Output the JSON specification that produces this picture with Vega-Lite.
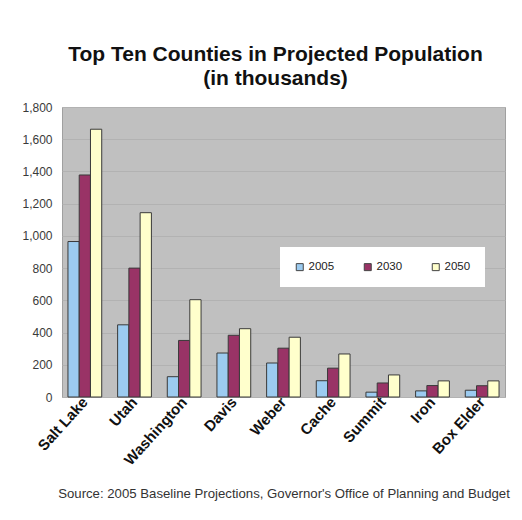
{
  "$schema": "https://vega.github.io/schema/vega-lite/v6.json",
  "width": 443,
  "height": 290,
  "autosize": {"type": "none"},
  "padding": {"left": 62, "top": 107, "right": 17, "bottom": 123},
  "background": "white",
  "title": {
    "text": ["Top Ten Counties in Projected Population", "(in thousands)"],
    "font": "Liberation Sans",
    "fontSize": 21,
    "fontWeight": "bold",
    "color": "#111111",
    "anchor": "middle",
    "dx": -8,
    "offset": 12,
    "lineHeight": 24
  },
  "data": {
    "values": [
      {"county": "Salt Lake", "year": "2005", "population": 965},
      {"county": "Salt Lake", "year": "2030", "population": 1378},
      {"county": "Salt Lake", "year": "2050", "population": 1662},
      {"county": "Utah", "year": "2005", "population": 448},
      {"county": "Utah", "year": "2030", "population": 800},
      {"county": "Utah", "year": "2050", "population": 1144},
      {"county": "Washington", "year": "2005", "population": 126},
      {"county": "Washington", "year": "2030", "population": 351},
      {"county": "Washington", "year": "2050", "population": 604},
      {"county": "Davis", "year": "2005", "population": 273},
      {"county": "Davis", "year": "2030", "population": 383},
      {"county": "Davis", "year": "2050", "population": 424},
      {"county": "Weber", "year": "2005", "population": 211},
      {"county": "Weber", "year": "2030", "population": 303},
      {"county": "Weber", "year": "2050", "population": 371},
      {"county": "Cache", "year": "2005", "population": 101},
      {"county": "Cache", "year": "2030", "population": 179},
      {"county": "Cache", "year": "2050", "population": 267},
      {"county": "Summit", "year": "2005", "population": 30},
      {"county": "Summit", "year": "2030", "population": 87},
      {"county": "Summit", "year": "2050", "population": 137},
      {"county": "Iron", "year": "2005", "population": 38},
      {"county": "Iron", "year": "2030", "population": 71},
      {"county": "Iron", "year": "2050", "population": 100},
      {"county": "Box Elder", "year": "2005", "population": 42},
      {"county": "Box Elder", "year": "2030", "population": 70},
      {"county": "Box Elder", "year": "2050", "population": 100}
    ]
  },
  "mark": {"type": "bar", "stroke": "#3a3a3a", "strokeWidth": 1},
  "encoding": {
    "x": {
      "field": "county",
      "type": "nominal",
      "sort": null,
      "scale": {"paddingInner": 0.32, "paddingOuter": 0.12},
      "axis": {
        "title": "Source: 2005 Baseline Projections, Governor's Office of Planning and Budget",
        "titleFont": "Liberation Sans",
        "titleFontSize": 13.2,
        "titleFontWeight": "normal",
        "titleColor": "#333333",
        "titlePadding": 20,
        "labelAngle": -48,
        "labelFont": "Liberation Sans",
        "labelFontSize": 15,
        "labelFontWeight": "bold",
        "labelColor": "#111111",
        "labelPadding": 2,
        "ticks": false,
        "domain": false
      }
    },
    "xOffset": {"field": "year", "type": "nominal", "sort": ["2005", "2030", "2050"]},
    "y": {
      "field": "population",
      "type": "quantitative",
      "scale": {"domain": [0, 1800], "nice": false},
      "axis": {
        "title": null,
        "values": [0, 200, 400, 600, 800, 1000, 1200, 1400, 1600, 1800],
        "format": ",.0f",
        "labelFont": "Liberation Sans",
        "labelFontSize": 12,
        "labelColor": "#3a3a3a",
        "labelPadding": 10,
        "ticks": false,
        "domain": false,
        "gridColor": "#b2b2b2",
        "gridWidth": 1
      }
    },
    "color": {
      "field": "year",
      "type": "nominal",
      "scale": {"domain": ["2005", "2030", "2050"], "range": ["#9ccbf0", "#993366", "#ffffcc"]},
      "legend": {
        "title": null,
        "orient": "none",
        "legendX": 218,
        "legendY": 140,
        "direction": "horizontal",
        "columns": 3,
        "columnPadding": 27,
        "padding": 14,
        "fillColor": "white",
        "symbolType": "square",
        "symbolSize": 49,
        "symbolStrokeColor": "#444444",
        "symbolStrokeWidth": 1,
        "symbolOpacity": 1,
        "labelFont": "Liberation Sans",
        "labelFontSize": 11.5,
        "labelColor": "#222222",
        "labelOffset": 3
      }
    }
  },
  "config": {
    "view": {"fill": "#c0c0c0", "stroke": "#a0a0a0", "strokeWidth": 1}
  }
}
